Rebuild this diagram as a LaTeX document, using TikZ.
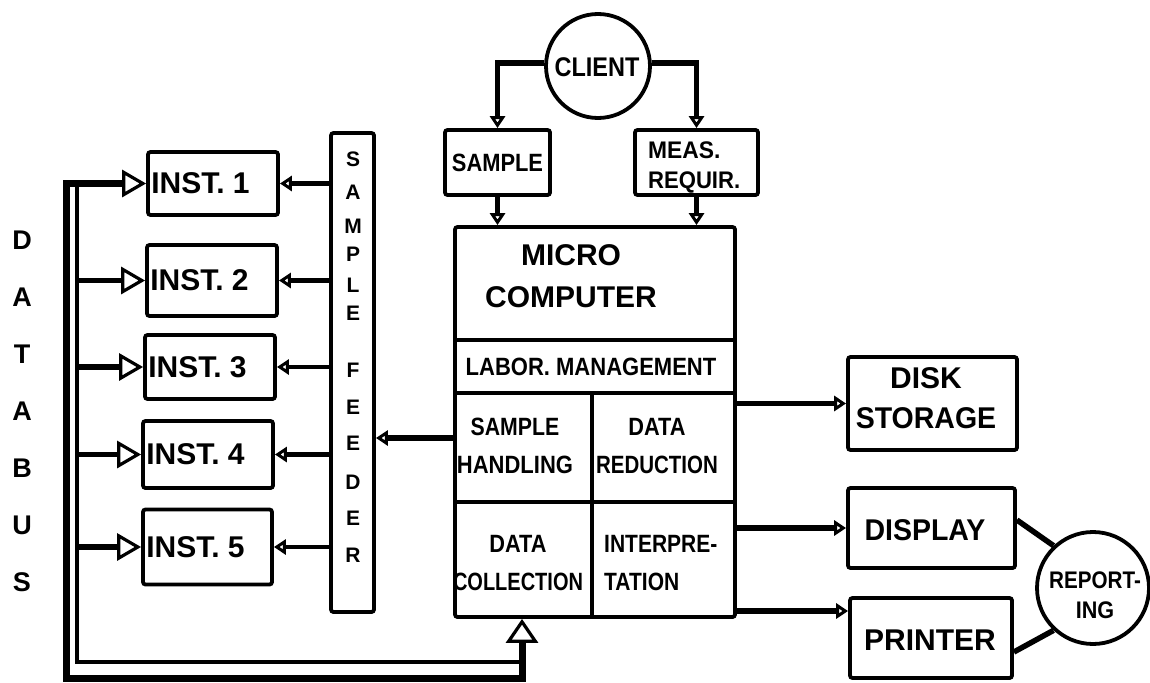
\documentclass[tikz,border=0pt]{standalone}
\usepackage{graphicx}
\usepackage{fontspec}
\setmainfont{Liberation Sans}
\usetikzlibrary{arrows.meta}
\newcommand{\nar}[2]{\scalebox{#1}[1]{#2}}
\begin{document}
\begin{tikzpicture}[x=1pt,y=-1pt,
  box/.style={draw, line width=3.8pt, rounded corners=2.5pt, inner sep=0pt},
  big/.style={font=\bfseries\fontsize{30}{40}\selectfont, inner sep=0pt},
  sm/.style={font=\bfseries\fontsize{25}{38}\selectfont, inner sep=0pt},
  conn/.style={line width=5.5pt},
  fline/.style={line width=4.5pt},
  bigtip/.style={-{Triangle[open, length=24pt, width=27pt, line width=3.2pt]}},
  smtip/.style={-{Triangle[open, length=12pt, width=15pt, line width=3.5pt]}},
  letter/.style={font=\bfseries\fontsize{27}{27}\selectfont, inner sep=0pt},
  fletter/.style={font=\bfseries\fontsize{21}{21}\selectfont, inner sep=0pt},
]
\fill[white] (0,0) rectangle (1150,682);
\useasboundingbox (0,0) rectangle (1150,682);

% ---------- nodes ----------
\node[draw, circle, line width=3.8pt, minimum size=104pt, inner sep=0pt] (client) at (598,66) {};
\node[sm, font=\bfseries\fontsize{27}{30}\selectfont] (clientt) at (597,67) {\nar{0.87}{CLIENT}};

\node[box, sm, minimum width=105pt, minimum height=65pt] (sample) at (497.5,162.5) {\nar{0.875}{SAMPLE}};
\node[box, minimum width=123pt, minimum height=65pt] (meas) at (696.5,162.5) {};
\node[sm, font=\bfseries\fontsize{24}{30}\selectfont, anchor=west, align=left] (meast) at (648,167) {\nar{0.95}{MEAS.}\\\nar{0.92}{REQUIR.}};

\node[box, minimum width=280pt, minimum height=390pt] (micro) at (595,422) {};
\draw[line width=3.8pt] (micro.west |- 0,340) -- (micro.east |- 0,340);
\draw[line width=3.8pt] (micro.west |- 0,393) -- (micro.east |- 0,393);
\draw[line width=3.8pt] (micro.west |- 0,502) -- (micro.east |- 0,502);
\draw[line width=3.8pt] (592,393) -- (micro.south -| 592,0);
\node[big, font=\bfseries\fontsize{30}{42}\selectfont, align=center] (mct) at (571,276) {MICRO\\COMPUTER};
\node[sm] (labt) at (591,367) {\nar{0.88}{LABOR. MANAGEMENT}};
\node[sm, align=center] (sht) at (515,446) {\nar{0.85}{SAMPLE}\\\nar{0.88}{HANDLING}};
\node[sm, align=center] (drt) at (657,446) {\nar{0.87}{DATA}\\\nar{0.82}{REDUCTION}};
\node[sm, align=center] (dct) at (518,563) {\nar{0.87}{DATA}\\\nar{0.8}{COLLECTION}};
\node[sm, anchor=west, align=left] (intt) at (604,563) {\nar{0.84}{INTERPRE-}\\\nar{0.84}{TATION}};

\node[box, minimum width=169pt, minimum height=93pt] (disk) at (932.5,403.5) {};
\node[big, align=center] (diskt) at (926,398) {DISK\\\nar{0.95}{STORAGE}};
\node[box, big, minimum width=167pt, minimum height=80pt] (disp) at (931.5,528) {};
\node[big] (dispt) at (925,530) {\nar{0.95}{DISPLAY}};
\node[box, minimum width=162pt, minimum height=80pt] (prn) at (931,638) {};
\node[big] (prnt) at (930,640) {PRINTER};
\node[draw, circle, line width=3.8pt, minimum size=112pt, inner sep=0pt] (rep) at (1093,588) {};
\node[sm, font=\bfseries\fontsize{24}{30}\selectfont, align=center] (rept) at (1095,595) {\nar{0.86}{REPORT-}\\\nar{0.9}{ING}};

\node[box, minimum width=43pt, minimum height=479pt] (feeder) at (352.5,372.5) {};
\foreach \l/\yy [count=\i] in {S/159,A/192,M/226,P/254,L/285,E/313,F/370,E/407,E/443,D/482,E/518,R/555}
  \node[fletter] (f\i) at (353,\yy) {\l};

\node[box, minimum width=130pt, minimum height=63pt] (i1) at (213,183.5) {};
\node[box, minimum width=130pt, minimum height=71pt] (i2) at (212,280.5) {};
\node[box, minimum width=130pt, minimum height=64pt] (i3) at (210,367) {};
\node[box, minimum width=130pt, minimum height=67pt] (i4) at (208,454.5) {};
\node[box, minimum width=129pt, minimum height=75pt] (i5) at (207.5,547) {};
\foreach \i in {1,...,5}
  \node[big, anchor=west] (t\i) at ([xshift=5pt]i\i.west) {INST. \i};

\foreach \l/\yy [count=\i] in {D/240,A/297,T/354,A/411,B/468,U/525,S/582}
  \node[letter] (db\i) at (22,\yy) {\l};

% ---------- connectors ----------
\draw[conn, smtip] (client.177) -| (sample.north);
\draw[conn, smtip] (client.3) -| (meas.north);
\draw[conn, smtip] (sample.south) -- (sample.south |- micro.north);
\draw[conn, smtip] (meas.south) -- (meas.south |- micro.north);

\draw[conn, smtip] (micro.west |- 0,438) -- (feeder.east |- 0,438);
\foreach \i in {1,...,5}
  \draw[fline, smtip] (feeder.west |- i\i.east) -- (i\i.east);

\coordinate (bo) at (66,0);
\coordinate (bi) at (77,0);
\coordinate (bcorner) at (522,678);
\coordinate (bic) at (522,662);
\draw[line width=7pt, {Triangle[open,length=24pt,width=27pt,line width=3.2pt]}-{Triangle[open,length=24pt,width=32pt,line width=3.2pt]}]
  (i1.west) -- (i1.west -| bo) |- (bcorner) -- (bcorner |- micro.south);
\draw[line width=4.5pt] (bi |- i1.west) -- (bi |- bic) -- (bic);
\foreach \i in {2,...,5}
  \draw[conn, bigtip] (bi |- i\i.west) -- (i\i.west);

\draw[conn, smtip] (micro.east |- disk.west) -- (disk.west);
\draw[conn, smtip] (micro.east |- disp.west) -- (disp.west);
\draw[conn, smtip] (micro.east |- 0,611) -- (prn.west |- 0,611);
\draw[conn] ([yshift=8pt]disp.east) -- (rep.133);
\draw[conn] ([yshift=-14pt]prn.east) -- (rep.227);
\end{tikzpicture}
\end{document}
